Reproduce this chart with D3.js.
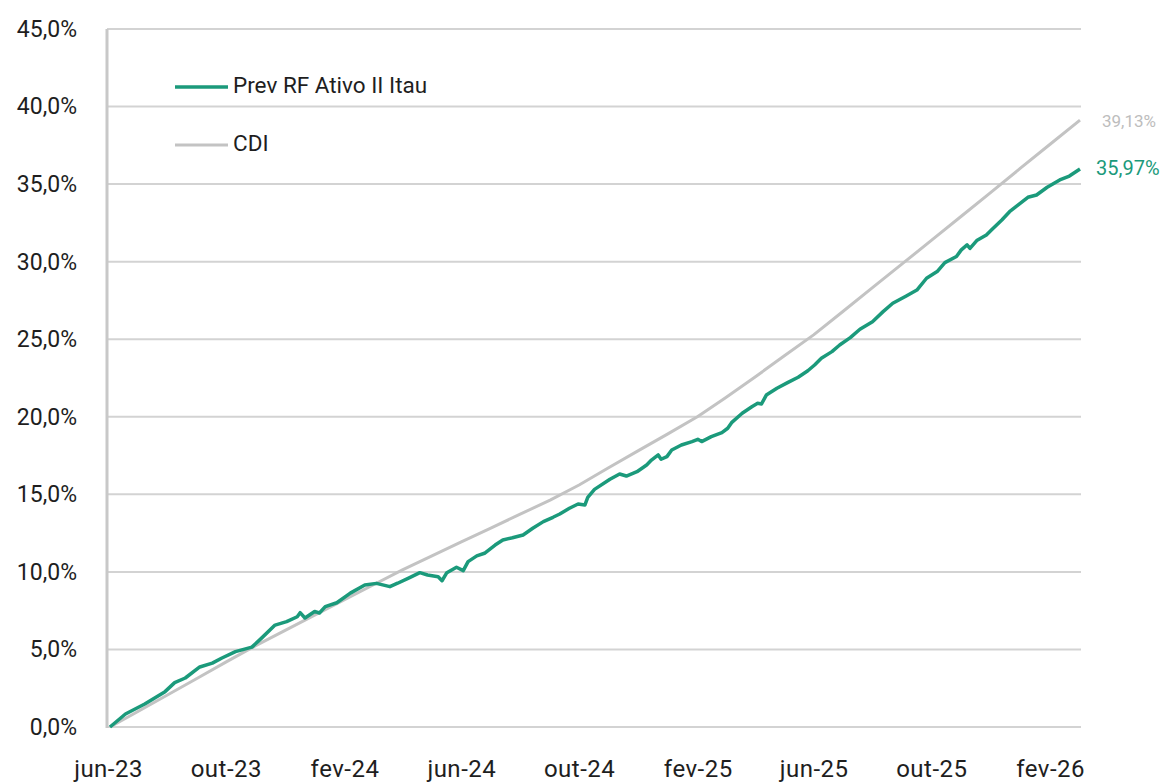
<!DOCTYPE html>
<html>
<head>
<meta charset="utf-8">
<script src="https://cdn.jsdelivr.net/npm/d3@7"></script>
<style>
  html, body { margin: 0; padding: 0; background: #ffffff; }
  svg { display: block; font-family: Roboto, "Noto Sans", sans-serif; }
</style>
</head>
<body>
<svg id="chart" width="1169" height="783"></svg>
<script>
// ---------- data ----------
const fundName = "Prev RF Ativo II Itau";
const cdiName = "CDI";

const fundDates = ["2023-06-03","2023-06-19","2023-07-09","2023-07-30","2023-08-09","2023-08-20","2023-09-04","2023-09-17","2023-09-27","2023-10-11","2023-10-28","2023-11-07","2023-11-21","2023-12-03","2023-12-14","2023-12-17","2023-12-22",
"2024-01-01","2024-01-06","2024-01-12","2024-01-24","2024-02-07","2024-02-22","2024-03-05","2024-03-19","2024-03-27","2024-04-09","2024-04-19","2024-04-27","2024-05-08","2024-05-12","2024-05-17","2024-05-27","2024-06-03","2024-06-08","2024-06-17","2024-06-25","2024-07-06","2024-07-14","2024-07-24","2024-08-04","2024-08-14","2024-08-25","2024-09-04","2024-09-11","2024-09-21","2024-09-30","2024-10-07","2024-10-10","2024-10-17","2024-11-02","2024-11-12","2024-11-19","2024-11-30","2024-12-10","2024-12-15","2024-12-22","2024-12-25","2024-12-31",
"2025-01-05","2025-01-15","2025-01-26","2025-02-01","2025-02-05","2025-02-15","2025-02-26","2025-03-04","2025-03-08","2025-03-19","2025-03-29","2025-04-04","2025-04-08","2025-04-13","2025-04-24","2025-05-05","2025-05-16","2025-05-26","2025-06-02","2025-06-09","2025-06-20","2025-06-28","2025-07-09","2025-07-19","2025-08-01","2025-08-12","2025-08-22","2025-09-05","2025-09-16","2025-09-26","2025-10-07","2025-10-15","2025-10-27","2025-11-01","2025-11-07","2025-11-10","2025-11-17","2025-11-27","2025-12-03","2025-12-13","2025-12-21","2025-12-30",
"2026-01-09","2026-01-18","2026-01-29","2026-02-11","2026-02-21","2026-03-04"];

const fundValues = [0,0.84,1.48,2.28,2.86,3.16,3.87,4.12,4.45,4.86,5.15,5.73,6.57,6.79,7.11,7.37,7.03,
7.45,7.35,7.76,8.01,8.63,9.16,9.26,9.05,9.27,9.65,9.95,9.80,9.69,9.43,9.95,10.30,10.08,10.66,11.03,11.20,11.73,12.06,12.20,12.38,12.81,13.24,13.52,13.73,14.10,14.38,14.31,14.80,15.32,15.97,16.31,16.18,16.46,16.89,17.21,17.54,17.26,17.43,
17.86,18.18,18.40,18.55,18.40,18.72,18.98,19.26,19.62,20.23,20.65,20.87,20.83,21.40,21.84,22.20,22.55,22.97,23.34,23.77,24.20,24.63,25.10,25.64,26.13,26.78,27.32,27.79,28.17,28.93,29.36,29.94,30.33,30.76,31.08,30.86,31.36,31.72,32.09,32.69,33.22,33.66,
34.15,34.30,34.80,35.27,35.52,35.97];

const cdiDates = ["2023-06-03","2023-07-01","2023-08-01","2023-09-01","2023-10-01","2023-11-01","2023-12-01",
"2024-01-01","2024-02-01","2024-03-01","2024-04-01","2024-05-01","2024-06-01","2024-07-01","2024-08-01","2024-09-01","2024-10-01","2024-11-01","2024-12-01",
"2025-01-01","2025-02-01","2025-03-01","2025-04-01","2025-05-01","2025-06-01","2025-07-01","2025-08-01","2025-09-01","2025-10-01","2025-11-01","2025-12-01",
"2026-01-01","2026-02-01","2026-03-04"];

const cdiValues = [0,0.97,2.05,3.13,4.18,5.25,6.21,
7.21,8.21,9.14,10.13,11.01,11.93,12.81,13.72,14.63,15.60,16.73,17.80,
18.90,20.02,21.20,22.55,23.90,25.28,26.77,28.33,29.87,31.37,32.93,34.44,
36.01,37.57,39.13];

const fundLastLabel = "35,97%";
const cdiLastLabel = "39,13%";

const yTickValues = [0,5,10,15,20,25,30,35,40,45];
const xTickDates = ["2023-06-01","2023-10-01","2024-02-01","2024-06-01","2024-10-01","2025-02-01","2025-06-01","2025-10-01","2026-02-01"];
const xTickLabels = ["jun-23","out-23","fev-24","jun-24","out-24","fev-25","jun-25","out-25","fev-26"];

// ---------- setup ----------
const parse = d3.utcParse("%Y-%m-%d");
const fund = fundDates.map((d, i) => ({date: parse(d), value: fundValues[i]}));
const cdi = cdiDates.map((d, i) => ({date: parse(d), value: cdiValues[i]}));

const GREEN = "#1b9a7b";
const GRAY_LINE = "#c3c3c3";
const GRID = "#d3d3d3";
const TEXT = "#1e1e1e";
const FONT = "Roboto, 'Noto Sans', sans-serif";

const svg = d3.select("#chart");

const x = d3.scaleUtc()
  .domain([parse(fundDates[0]), parse(fundDates[fundDates.length - 1])])
  .range([110, 1080]);

const y = d3.scaleLinear().domain([0, 45]).range([727, 29]);

const plotLeft = 107, plotRight = 1081;

// gridlines
svg.append("g")
  .selectAll("line")
  .data(yTickValues)
  .join("line")
  .attr("x1", plotLeft)
  .attr("x2", plotRight)
  .attr("y1", d => y(d))
  .attr("y2", d => y(d))
  .attr("stroke", GRID)
  .attr("stroke-width", 2);

// y axis vertical line
svg.append("line")
  .attr("x1", plotLeft).attr("x2", plotLeft)
  .attr("y1", y(45)).attr("y2", y(0) + 1)
  .attr("stroke", "#c8c8c8")
  .attr("stroke-width", 3);

// y axis labels
const yAxis = d3.axisLeft(y)
  .tickValues(yTickValues)
  .tickSize(0)
  .tickPadding(30)
  .tickFormat(d => d.toFixed(1).replace(".", ",") + "%");

const gy = svg.append("g").attr("transform", `translate(${plotLeft},0)`).call(yAxis);
gy.select(".domain").remove();
gy.selectAll("text")
  .attr("fill", TEXT)
  .style("font-size", "23px")
  .style("font-family", FONT);

// x axis labels
const xAxis = d3.axisBottom(x)
  .tickValues(xTickDates.map(parse))
  .tickSize(0)
  .tickPadding(33)
  .tickFormat((d, i) => xTickLabels[i]);

const gx = svg.append("g").attr("transform", `translate(0,${y(0)})`).call(xAxis);
gx.select(".domain").remove();
gx.selectAll("text")
  .attr("fill", TEXT)
  .style("font-size", "24px")
  .style("letter-spacing", "0.5px")
  .style("font-family", FONT);

// lines
const line = d3.line()
  .x(d => x(d.date))
  .y(d => y(d.value));

svg.append("path")
  .datum(cdi)
  .attr("fill", "none")
  .attr("stroke", GRAY_LINE)
  .attr("stroke-width", 3)
  .attr("stroke-linejoin", "round")
  .attr("d", line);

svg.append("path")
  .datum(fund)
  .attr("fill", "none")
  .attr("stroke", GREEN)
  .attr("stroke-width", 3.5)
  .attr("stroke-linejoin", "round")
  .attr("d", line);

// end labels
const lastCdi = cdi[cdi.length - 1];
const lastFund = fund[fund.length - 1];

svg.append("text")
  .attr("x", x(lastCdi.date) + 22)
  .attr("y", y(lastCdi.value) + 2)
  .attr("dominant-baseline", "middle")
  .attr("fill", "#bdbdbd")
  .style("font-size", "17px")
  .text(cdiLastLabel);

svg.append("text")
  .attr("x", x(lastFund.date) + 16)
  .attr("y", y(lastFund.value) + 1)
  .attr("dominant-baseline", "middle")
  .attr("fill", GREEN)
  .style("font-size", "20px")
  .text(fundLastLabel);

// legend
const legend = [
  {name: fundName, color: GREEN, width: 3.5, y: 87},
  {name: cdiName, color: GRAY_LINE, width: 3, y: 145}
];
const lg = svg.append("g");
lg.selectAll("line")
  .data(legend)
  .join("line")
  .attr("x1", 175).attr("x2", 228)
  .attr("y1", d => d.y).attr("y2", d => d.y)
  .attr("stroke", d => d.color)
  .attr("stroke-width", d => d.width);
lg.selectAll("text")
  .data(legend)
  .join("text")
  .attr("x", 233)
  .attr("y", d => d.y)
  .attr("dominant-baseline", "middle")
  .attr("fill", TEXT)
  .style("font-size", "22.5px")
  .text(d => d.name);
</script>
</body>
</html>
